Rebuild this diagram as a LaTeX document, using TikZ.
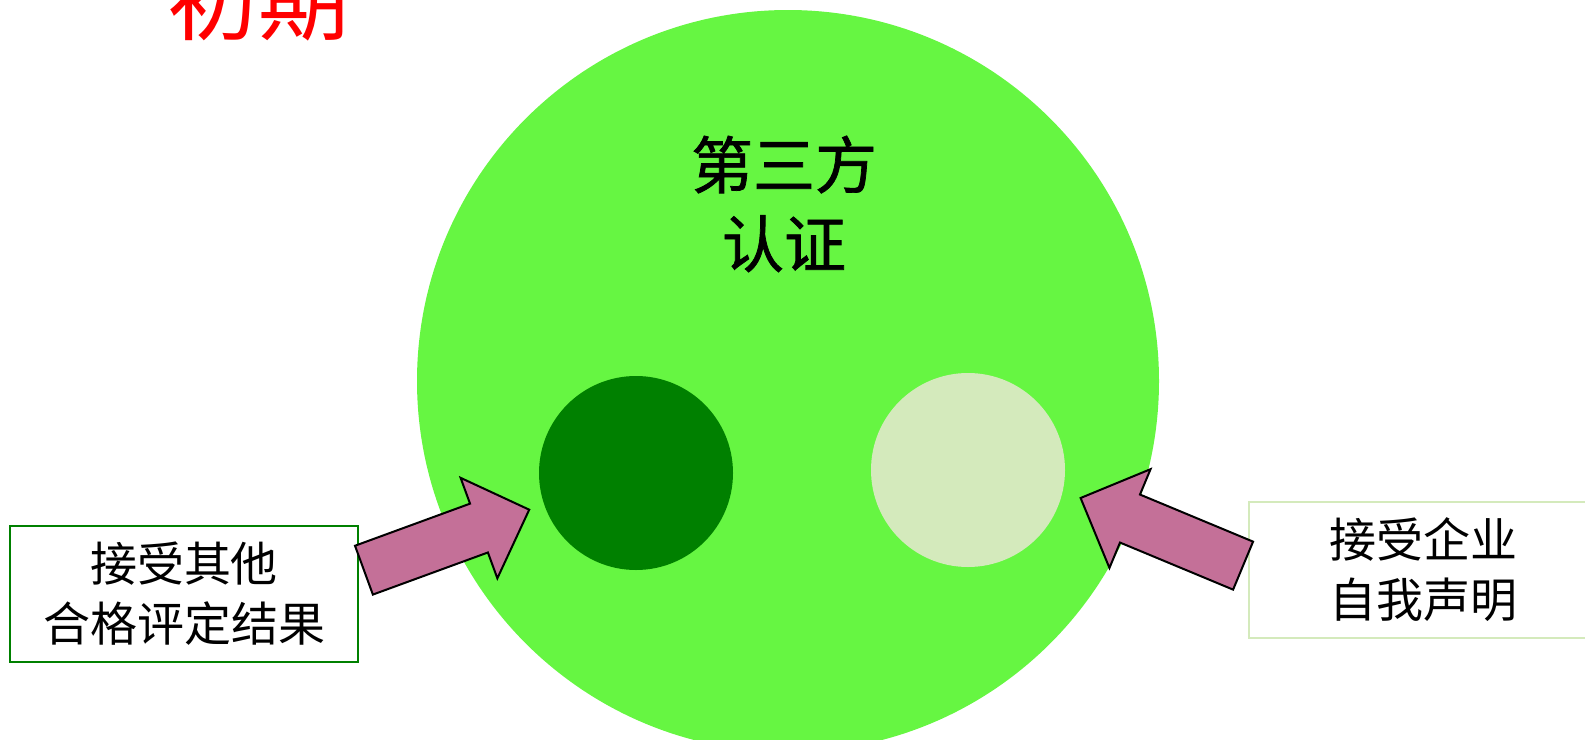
\documentclass[tikz,border=0pt]{standalone}
\usepackage{fontspec}
\newfontfamily\cjk{Noto Sans CJK SC}
\newfontfamily\cjkheavy[FakeBold=1.2]{Noto Sans CJK SC}
\usetikzlibrary{shapes.arrows}
\definecolor{outerGreen}{RGB}{102,246,66}
\definecolor{darkGreen}{RGB}{0,128,0}
\definecolor{paleGreen}{RGB}{212,234,188}
\definecolor{arrowPink}{RGB}{196,112,152}
\tikzset{
  circ/.style={
    % The shape:
    circle,inner sep=0pt,
    % The size:
    minimum size=194pt,
    % No border
    draw=none}}
\tikzset{
	sbox/.style={
		% The shape:
		rectangle,minimum width=348pt,minimum height=136pt,
		% The rest
		line width=1.5pt,fill=white,align=center,
		font=\cjk\fontsize{47}{60}\selectfont}}
\tikzset{
	barrow/.style={
		% The shape:
		single arrow,single arrow head extend=27.5pt,
		inner xsep=0pt,inner ysep=25pt,minimum height=176pt,
		% The rest
		line width=2pt,draw=black,fill=arrowPink,anchor=tail}}

\begin{document}
\begin{tikzpicture}[x=1pt,y=-1pt]
	\useasboundingbox (0,0) rectangle (1585,739);
	% The big circle
	\node[circ,fill=outerGreen,minimum size=742pt] (outer) at (788,381) {};
	\node[font=\cjkheavy\fontsize{62}{79}\selectfont,align=center] (third) at (784,204) {第三方\\认证};
	% The two small circles
	\node[circ,fill=darkGreen] (other) at (636,473) {};
	\node[circ,fill=paleGreen] (self) at (968,470) {};
	% Title
	\node[text=red,font=\cjk\fontsize{91}{100}\selectfont,anchor=base] (title) at (258,33) {初期};
	% Boxes
	\node[sbox,draw=darkGreen] (lbox) at (184,594) {接受其他\\合格评定结果};
	\node[sbox,draw=paleGreen] (rbox) at (1423,570) {接受企业\\自我声明};
	% Arrows into the circles
	\node[barrow,rotate=20.1] (larrow) at (363,570.5) {};
	\node[barrow,rotate=157.4] (rarrow) at (1244,566) {};
\end{tikzpicture}
\end{document}
